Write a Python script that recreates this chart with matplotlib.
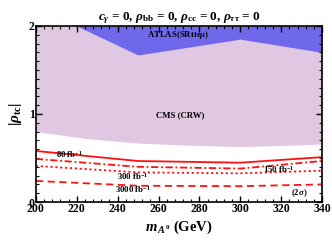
import matplotlib
matplotlib.use('Agg')
import matplotlib.pyplot as plt
import matplotlib.ticker as mticker

plt.rcParams['font.family'] = ['Liberation Serif', 'DejaVu Serif']
plt.rcParams['font.weight'] = 'bold'
plt.rcParams['axes.labelweight'] = 'bold'
plt.rcParams['axes.titleweight'] = 'bold'
plt.rcParams['mathtext.fontset'] = 'custom'
plt.rcParams['mathtext.rm'] = 'Liberation Serif:bold'
plt.rcParams['mathtext.it'] = 'Liberation Serif:italic:bold'
plt.rcParams['mathtext.bf'] = 'Liberation Serif:bold'

# data
mass = [200, 250, 300, 340]
atlas_mass = [200, 220, 250, 300, 340]
atlas_low = [2.0, 2.0, 1.67, 1.85, 1.70]
cms_mass = [200, 225, 250, 275, 300, 325, 340]
cms_low = [0.80, 0.72, 0.67, 0.645, 0.63, 0.645, 0.66]
lum_80 = [0.58, 0.466, 0.447, 0.51]
lum_150 = [0.49, 0.40, 0.38, 0.466]
lum_300 = [0.41, 0.337, 0.326, 0.356]
lum_3000 = [0.24, 0.185, 0.18, 0.20]

fig = plt.figure(figsize=(3.32, 2.47), dpi=100)
ax = fig.add_axes([0.108, 0.182, 0.862, 0.713])

ax.fill_between(cms_mass, cms_low, 2.0, color='#e0c8e2', lw=0)
ax.fill_between(atlas_mass, atlas_low, 2.0, color='#7068ea', lw=0)

red = '#ff1010'
ax.plot(mass, lum_80, color=red, lw=1.3, ls='-')
ax.plot(mass, lum_150, color=red, lw=1.3, ls=(0, (4, 1.5, 1, 1.5)))
ax.plot(mass, lum_300, color=red, lw=1.3, ls=(0, (1.2, 1.5)))
ax.plot(mass, lum_3000, color=red, lw=1.3, ls=(0, (4, 2.5)))

fs = 6.3
kw = dict(fontsize=fs, ha='center', va='center', fontweight='bold')
ax.text(216.5, 0.545, r'80 fb$^{-1}$', **kw)
ax.text(319, 0.375, r'150 fb$^{-1}$', **kw)
ax.text(247.5, 0.292, r'300 fb$^{-1}$', **kw)
ax.text(247.5, 0.148, r'3000 fb$^{-1}$', **kw)
ax.text(329, 0.10, r'$(2\sigma)$', **kw)
ax.text(270.5, 0.99, 'CMS (CRW)', **kw)
ax.text(269.5, 1.90, r'ATLAS(SRtte$\mu$)', **kw)

ax.set_xlim(200, 340)
ax.set_ylim(0, 2)
ax.xaxis.set_major_locator(mticker.MultipleLocator(20))
ax.xaxis.set_minor_locator(mticker.MultipleLocator(4))
ax.yaxis.set_major_locator(mticker.MultipleLocator(1))
ax.yaxis.set_minor_locator(mticker.MultipleLocator(0.1))
ax.tick_params(which='both', direction='in', top=True, right=True, labelsize=8.5, pad=1)
ax.tick_params(which='major', length=4, width=1.0)
ax.tick_params(which='minor', length=2, width=0.8)
for lab in ax.get_xticklabels() + ax.get_yticklabels():
    lab.set_fontweight('bold')
for s in ax.spines.values():
    s.set_linewidth(1.2)

ax.set_xlabel(r'$m_{\,A^0}$ (GeV)', fontsize=10.5, labelpad=2, fontweight='bold')
ax.set_ylabel(r'$|\rho_{\rm tc}|$', fontsize=11, labelpad=3)
ax.set_title(r'$c_\gamma$ = 0, $\rho_{\rm bb}$ = 0, $\rho_{\rm cc}$ = 0, $\rho_{\tau\tau}$ = 0',
             fontsize=9.5, pad=4, fontweight='bold')

fig.savefig('out.png', dpi=100)
